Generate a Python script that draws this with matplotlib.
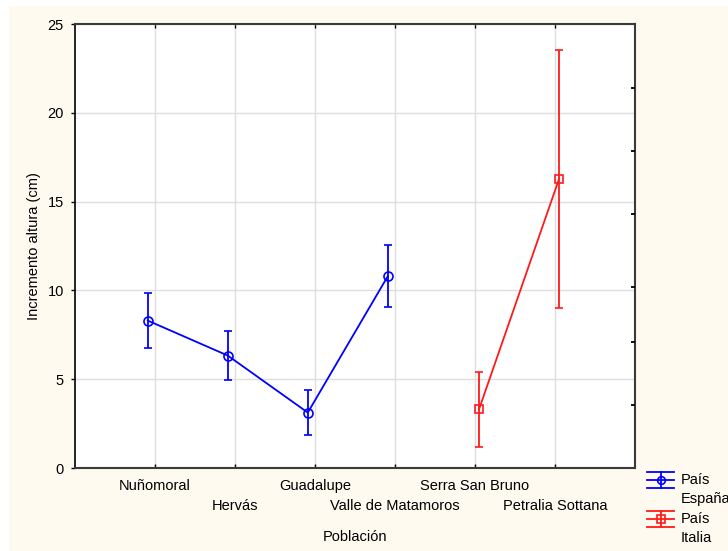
import matplotlib
matplotlib.use('Agg')
import matplotlib.pyplot as plt
from matplotlib.patches import Rectangle
from matplotlib.lines import Line2D

plt.rcParams['font.family'] = ['Liberation Sans', 'DejaVu Sans']
plt.rcParams['font.size'] = 10.5

poblaciones = ['Nuñomoral', 'Hervás', 'Guadalupe', 'Valle de Matamoros',
               'Serra San Bruno', 'Petralia Sottana']

# medias y errores por país
espana_idx = [0, 1, 2, 3]
espana_media = [8.30, 6.33, 3.12, 10.80]
espana_err = [1.56, 1.40, 1.27, 1.74]

italia_idx = [4, 5]
italia_media = [3.30, 16.27]
italia_err = [2.09, 7.28]

# marcas del eje derecho (sin etiqueta)
right_ticks = [3.55, 7.11, 10.19, 14.30, 17.85, 21.40]

crema = '#fffaef'
azul = '#0000ff'
rojo = '#ff1a1a'
eje = '#3a3a3a'

fig = plt.figure(figsize=(7.28, 5.51), dpi=100, facecolor='white')
fig.patches.append(Rectangle((9 / 728, 0), 1, 1 - 6 / 551, transform=fig.transFigure,
                             facecolor=crema, edgecolor='none', zorder=-10))

ax = fig.add_axes([75 / 728, 1 - 468 / 551, 560 / 728, 444 / 551])
ax.set_facecolor('white')

off_es = -0.09
off_it = 0.05

ax.errorbar([i + off_es for i in espana_idx], espana_media, yerr=espana_err,
            color=azul, lw=1.3, elinewidth=1.3, capsize=3, capthick=1.3,
            marker='o', ms=6.5, mfc='none', mec=azul, mew=1.2, zorder=3)
ax.errorbar([i + off_it for i in italia_idx], italia_media, yerr=italia_err,
            color=rojo, lw=1.3, elinewidth=1.3, capsize=3, capthick=1.3,
            marker='s', ms=6, mfc='none', mec=rojo, mew=1.2, zorder=3)

ax.set_xlim(-1, 6)
ax.set_ylim(0, 25)
ax.set_yticks([0, 5, 10, 15, 20, 25])
ax.set_xticks(range(len(poblaciones)))
ax.set_xticklabels(poblaciones)

ax.grid(True, color='#dedede', lw=1)
ax.set_axisbelow(True)

ax.tick_params(axis='y', direction='out', length=3, width=1, color='black',
               pad=5, labelsize=10.5)
ax.tick_params(axis='x', direction='in', length=3, width=1, color='black',
               pad=8, top=True, labelsize=10.5)
# etiquetas alternadas en dos filas
for i, tick in enumerate(ax.xaxis.get_major_ticks()):
    if i % 2 == 1:
        tick.set_pad(22.5)

for s in ax.spines.values():
    s.set_color(eje)
    s.set_linewidth(1.5)
ax.spines['left'].set_color('black')
ax.spines['left'].set_linewidth(1.2)

ax2 = ax.twinx()
ax2.set_ylim(0, 25)
ax2.set_yticks(right_ticks)
ax2.set_yticklabels([])
ax2.tick_params(axis='y', direction='in', length=3, width=1.3, color='black')
for s in ax2.spines.values():
    s.set_visible(False)

ax.set_xlabel('Población', labelpad=12)
ax.set_ylabel('Incremento altura (cm)', labelpad=5)

# leyenda dibujada a mano a la derecha del gráfico
leg = fig.add_axes([0, 0, 1, 1], facecolor='none')
leg.set_xlim(0, 728)
leg.set_ylim(551, 0)
leg.axis('off')
for yc, col, mk, pais in [(480, azul, 'o', 'España'), (519, rojo, 's', 'Italia')]:
    for dy in (-8, 0, 8):
        leg.add_line(Line2D([647, 674], [yc + dy, yc + dy], color=col, lw=1.3))
    leg.add_line(Line2D([660.5, 660.5], [yc - 8, yc + 8], color=col, lw=1.3))
    leg.plot([660.5], [yc], marker=mk, ms=5.5, mfc='none', mec=col, mew=1.2)
    leg.text(681, yc, 'País', va='center', ha='left', fontsize=10.5)
    leg.text(681, yc + 19, pais, va='center', ha='left', fontsize=10.5)

fig.savefig('out.png', dpi=100, facecolor=fig.get_facecolor())
